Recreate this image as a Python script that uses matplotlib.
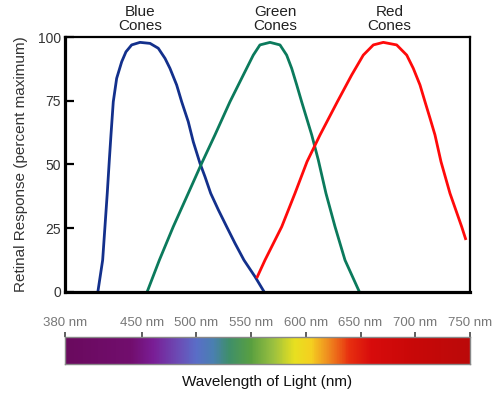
import numpy as np
import matplotlib
matplotlib.use('Agg')
import matplotlib.pyplot as plt
from matplotlib.colors import LinearSegmentedColormap

plt.rcParams['font.family'] = ['Liberation Sans', 'DejaVu Sans']

# cone response curves (wavelength nm, percent of max)
blue_wl = [410.0, 414.4, 416.5, 418.6, 420.5, 422.0, 424.1, 427.2, 431.8, 435.7,
           440.9, 448.5, 457.7, 465.2, 471.4, 475.9, 482.0, 486.6, 492.6, 497.2,
           503.3, 507.9, 513.1, 520.1, 527.7, 535.3, 543.5, 553.6, 562.0]
blue_resp = [0, 12.5, 25.6, 38.7, 51.8, 61.6, 74.6, 83.8, 90.3, 94.2,
             96.9, 97.9, 97.5, 95.6, 91.6, 87.7, 81.2, 74.6, 66.8, 58.9,
             50.5, 45.2, 38.7, 32.2, 25.6, 19.1, 12.5, 6.0, 0]

green_wl = [455.0, 466.2, 478.9, 492.6, 504.9, 517.0, 530.7, 542.9, 552.0, 558.1,
            567.3, 576.4, 582.5, 587.1, 591.7, 596.2, 600.8, 605.4, 611.4, 618.4,
            626.7, 635.8, 649.0]
green_resp = [0, 12.5, 25.6, 38.7, 50.5, 61.6, 74.6, 85.1, 92.9, 96.9,
              97.9, 96.9, 92.9, 87.7, 81.2, 74.6, 68.1, 61.6, 51.8, 38.7,
              25.6, 12.5, 0]

red_wl = [555.1, 562.7, 578.0, 590.1, 601.1, 613.0, 628.8, 641.9, 652.5, 661.7,
          670.8, 683.0, 692.2, 698.2, 704.3, 708.9, 713.5, 718.0, 723.5, 731.7,
          742.4, 746.3]
red_resp = [5.4, 12.5, 25.6, 38.7, 51.1, 61.6, 74.6, 85.1, 92.9, 96.9,
            97.9, 96.9, 92.9, 87.7, 81.2, 74.6, 68.1, 61.6, 51.1, 38.7,
            25.6, 20.4]

cone_names = ['Blue\nCones', 'Green\nCones', 'Red\nCones']
cone_label_wl = [448.5, 571.8, 676.5]
cone_colors = ['#13308c', '#0b7a5c', '#ff0a0a']

y_ticks = [0, 25, 50, 75, 100]
wl_ticks = [380, 450, 500, 550, 600, 650, 700, 750]

# spectrum bar colour stops
spec_wl = [380, 440, 460, 485, 500, 515, 530, 550, 570, 590, 605, 620, 640, 660, 700, 750]
spec_col = ['#6a0a5e', '#720e6e', '#7a1e96', '#6a50b8', '#5a6ec8', '#4a80b0', '#3f8f6a',
            '#5aa040', '#9ac040', '#e8e020', '#f5d020', '#f09020', '#e83010', '#d80c0c',
            '#c80808', '#bb0a0a']

fig = plt.figure(figsize=(5, 3.95), dpi=100)
ax = fig.add_axes([0.13, 0.2608, 0.81, 0.6455])

for wl, resp, c in [(blue_wl, blue_resp, cone_colors[0]),
                    (green_wl, green_resp, cone_colors[1]),
                    (red_wl, red_resp, cone_colors[2])]:
    ax.plot(wl, resp, color=c, lw=2.0, solid_capstyle='butt', solid_joinstyle='round')

ax.set_xlim(380, 750)
ax.set_ylim(0, 100)
ax.set_xticks([])
ax.set_yticks(y_ticks)
ax.tick_params(axis='y', direction='in', length=6.5, width=1.6, pad=3,
               labelsize=10, labelcolor='#333333')
for side in ['left', 'bottom']:
    ax.spines[side].set_linewidth(2.3)
for side in ['top', 'right']:
    ax.spines[side].set_linewidth(1.6)
ax.set_ylabel('Retinal Response (percent maximum)', fontsize=11, color='#333333', labelpad=7)

for name, x in zip(cone_names, cone_label_wl):
    ax.text(x, 101.6, name, ha='center', va='bottom', fontsize=11, color='#222222',
            linespacing=1.0, clip_on=False)

# spectrum bar
cax = fig.add_axes([0.13, 0.0785, 0.81, 0.068])
cmap = LinearSegmentedColormap.from_list(
    'spec', [((w - spec_wl[0]) / (spec_wl[-1] - spec_wl[0]), c) for w, c in zip(spec_wl, spec_col)])
cax.imshow(np.linspace(0, 1, 500)[None, :], aspect='auto', cmap=cmap,
           extent=[380, 750, 0, 1])
cax.set_xlim(380, 750)
cax.set_ylim(0, 1)
cax.set_yticks([])
cax.set_xticks(wl_ticks)
cax.set_xticklabels([f'{w} nm' for w in wl_ticks])
cax.xaxis.tick_top()
cax.tick_params(axis='x', direction='out', length=3.6, width=1.2, color='#444444',
                pad=2, labelsize=9.5, labelcolor='#777777')
for s in cax.spines.values():
    s.set_color('#888888')
    s.set_linewidth(1.0)
cax.set_xlabel('Wavelength of Light (nm)', fontsize=11, color='#111111', labelpad=8)

fig.savefig('out.png', dpi=100)
